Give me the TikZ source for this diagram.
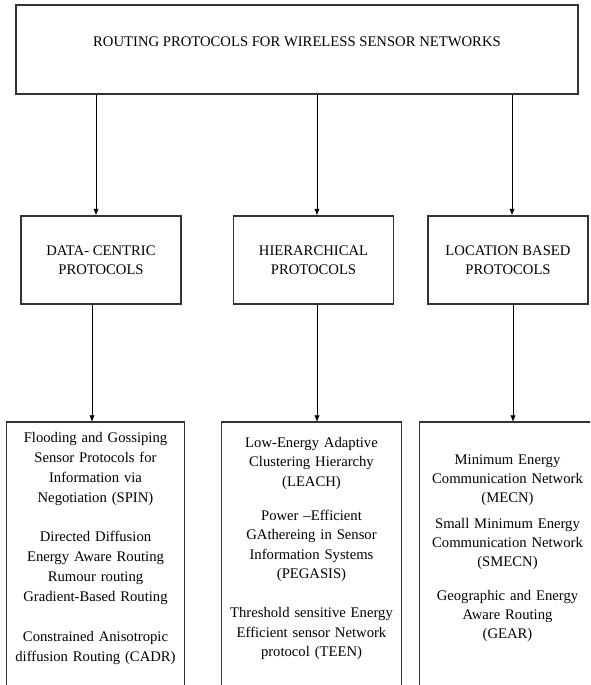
\documentclass[tikz,border=0pt]{standalone}
\usepackage{fontspec}
\setmainfont{Liberation Serif}
\usetikzlibrary{arrows.meta}
\tikzset{
	every node/.style={font=\fontsize{11pt}{14.6pt}\selectfont},
	boxline/.style={draw=black!80, line width=0.8pt},
	headbox/.style={boxline, minimum width=421.5pt, minimum height=66.75pt, text height=7.3pt, text depth=12pt, inner sep=0pt},
	classbox/.style={boxline, minimum width=120pt, minimum height=66pt, align=center, inner sep=0pt},
	listbox/.style={anchor=north, align=center, inner xsep=0pt},
	arr/.style={-{Latex[length=5pt,width=4pt]}, line width=0.6pt},
}

\begin{document}
\begin{tikzpicture}[x=0.75pt,y=0.75pt,yscale=-1,xscale=1]
	\useasboundingbox (0,0) rectangle (590,685);
	\clip (0,0) rectangle (590,685);
	\coordinate (floor) at (0,700);
	% title
	\draw (297,49.5) node (rp) [headbox] {ROUTING PROTOCOLS FOR WIRELESS SENSOR NETWORKS};
	% protocol classes
	\draw (101,260) node (dc) [classbox] {DATA- CENTRIC\\PROTOCOLS};
	\draw (313.5,260) node (hi) [classbox] {HIERARCHICAL\\PROTOCOLS};
	\draw (508,260) node (lb) [classbox] {LOCATION BASED\\PROTOCOLS};
	% protocol lists
	\draw (95.5,422) node (dclist) [listbox, text width=132.75pt, inner ysep=7.5pt, font=\fontsize{11pt}{15pt}\selectfont] {Flooding and Gossiping\\Sensor Protocols for\\Information via\\Negotiation (SPIN)\\[14.6pt]Directed Diffusion\\Energy Aware Routing\\Rumour routing\\Gradient-Based Routing\\[14.6pt]Constrained Anisotropic\\diffusion Routing (CADR)};
	\draw [boxline] (dclist.north west) rectangle (dclist.east |- floor);
	\draw (311.5,422) node (hilist) [listbox, text width=134.25pt, inner ysep=11.25pt] {Low-Energy Adaptive\\Clustering Hierarchy\\(LEACH)\\[11pt]Power --Efficient\\GAthereing in Sensor\\Information Systems\\(PEGASIS)\\[14.6pt]Threshold sensitive Energy\\Efficient sensor Network\\protocol (TEEN)};
	\draw [boxline] (hilist.north west) rectangle (hilist.east |- floor);
	\draw (507.5,422) node (lblist) [listbox, text width=131.25pt, inner ysep=24.75pt, font=\fontsize{11pt}{14pt}\selectfont] {Minimum Energy\\Communication Network\\(MECN)\\[6pt]Small Minimum Energy\\Communication Network\\(SMECN)\\[12pt]Geographic and Energy\\Aware Routing\\(GEAR)};
	\draw [boxline] (lblist.north west) rectangle (lblist.east |- floor);
	% arrows
	\draw [arr] ([xshift=-3.75pt]dc.north |- rp.south) -- ([xshift=-3.75pt]dc.north);
	\draw [arr] ([xshift=2.6pt]hi.north |- rp.south) -- ([xshift=2.6pt]hi.north);
	\draw [arr] ([xshift=3pt]lb.north |- rp.south) -- ([xshift=3pt]lb.north);
	\draw [arr] ([xshift=-6.75pt]dc.south) -- ([xshift=-6.75pt]dc.south |- dclist.north);
	\draw [arr] ([xshift=2.6pt]hi.south) -- ([xshift=2.6pt]hi.south |- hilist.north);
	\draw [arr] ([xshift=3.75pt]lb.south) -- ([xshift=3.75pt]lb.south |- lblist.north);
\end{tikzpicture}
\end{document}
